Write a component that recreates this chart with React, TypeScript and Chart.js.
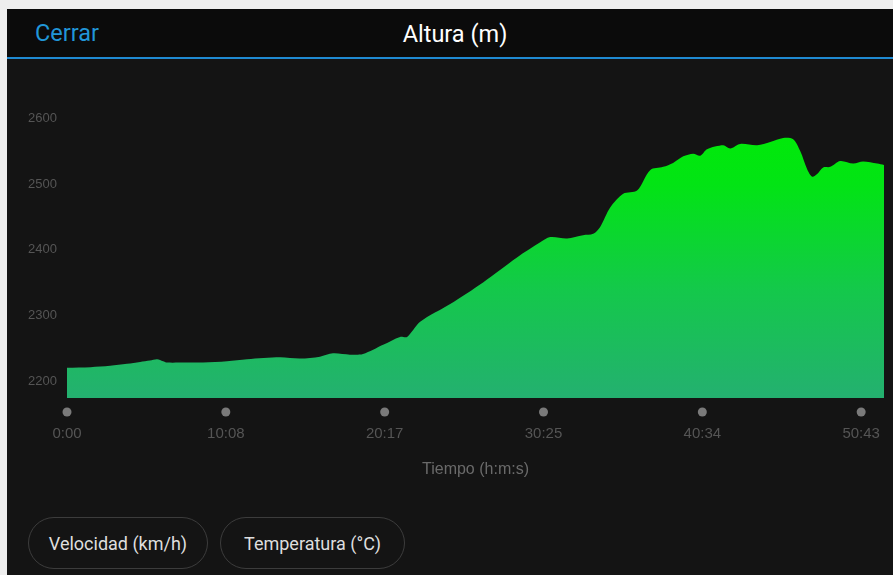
import React, { useEffect, useRef } from "react";
import { Chart, registerables } from "chart.js";

Chart.register(...registerables);

// Elapsed time (seconds) and elevation (m)
const timeSeconds = [
  0, 90, 165, 230, 280, 318, 345, 368, 383, 450, 521, 613, 690, 816, 893, 969,
  1019, 1084, 1134, 1211, 1276, 1303, 1353, 1468, 1594, 1724, 1813, 1851, 1916,
  1977, 2016, 2042, 2081, 2131, 2184, 2234, 2284, 2322, 2361, 2399, 2426, 2452,
  2514, 2541, 2579, 2644, 2694, 2744, 2782, 2809, 2836, 2855, 2874, 2897, 2924,
  2962, 3012, 3050, 3104, 3130,
];
const elevation = [
  2220, 2221, 2223, 2226, 2229, 2231, 2233, 2230, 2228, 2228, 2228, 2230, 2233,
  2236, 2234, 2237, 2242, 2240, 2241, 2255, 2267, 2267, 2290, 2317, 2350, 2388,
  2411, 2419, 2417, 2422, 2424, 2434, 2464, 2485, 2490, 2521, 2526, 2532, 2542,
  2546, 2543, 2553, 2559, 2554, 2561, 2559, 2564, 2570, 2568, 2550, 2522, 2511,
  2515, 2525, 2526, 2535, 2531, 2534, 2531, 2529,
];
const xTickValues = [0, 608.5, 1217, 1825.5, 2434, 3042.5];
const xTickLabels = ["0:00", "10:08", "20:17", "30:25", "40:34", "50:43"];
const yTickValues = [2200, 2300, 2400, 2500, 2600];
const yMin = 2174;
const yMax = 2640;
const xMax = 3130;

const FONT = "'Liberation Sans', Arial, sans-serif";

export default function App() {
  const ref = useRef<HTMLCanvasElement>(null);

  useEffect(() => {
    if (!ref.current) return;
    const dotPlugin = {
      id: "tickDots",
      afterDraw(chart: any) {
        const xs = chart.scales.x;
        const ctx = chart.ctx;
        ctx.save();
        ctx.fillStyle = "#7a7a7a";
        for (const t of xs.ticks) {
          const px = xs.getPixelForValue(t.value);
          ctx.beginPath();
          ctx.arc(px, chart.chartArea.bottom + 14, 4.5, 0, Math.PI * 2);
          ctx.fill();
        }
        ctx.restore();
      },
    };

    const chart = new Chart(ref.current, {
      type: "line",
      data: {
        datasets: [
          {
            data: timeSeconds.map((t, i) => ({ x: t, y: elevation[i] })),
            fill: "start",
            backgroundColor: (c: any) => {
              const { chart } = c;
              const area = chart.chartArea;
              if (!area) return "rgb(20,200,80)";
              const g = chart.ctx.createLinearGradient(0, area.top, 0, area.bottom);
              g.addColorStop(0, "rgb(0,238,0)");
              g.addColorStop(0.3, "rgb(2,228,20)");
              g.addColorStop(0.65, "rgb(20,200,75)");
              g.addColorStop(1, "rgb(36,176,112)");
              return g;
            },
            borderWidth: 0,
            borderColor: "rgba(0,0,0,0)",
            pointRadius: 0,
            tension: 0.3,
          },
        ],
      },
      options: {
        responsive: false,
        maintainAspectRatio: false,
        animation: false,
        layout: { padding: { left: 0, right: 9, top: 33, bottom: 0 } },
        plugins: {
          legend: { display: false },
          tooltip: { enabled: false },
        },
        scales: {
          x: {
            type: "linear",
            min: 0,
            max: xMax,
            grid: { display: false, drawTicks: false },
            border: { display: false },
            afterBuildTicks: (s: any) => {
              s.ticks = xTickValues.map((v) => ({ value: v }));
            },
            ticks: {
              callback: (_v: any, i: number) => xTickLabels[i],
              color: "#555555",
              font: { size: 15, family: FONT },
              padding: 27,
              maxRotation: 0,
              autoSkip: false,
            },
            title: {
              display: true,
              text: "Tiempo (h:m:s)",
              color: "#6a6a6a",
              font: { size: 16, family: FONT },
              padding: { top: 0, bottom: 20.4 },
            },
            afterFit: (s: any) => {
              s.height = 102;
              s.paddingLeft = 0;
              s.paddingRight = 0;
            },
          },
          y: {
            min: yMin,
            max: yMax,
            grid: { display: false, drawTicks: false },
            border: { display: false },
            afterBuildTicks: (s: any) => {
              s.ticks = yTickValues.map((v) => ({ value: v }));
            },
            ticks: {
              callback: (v: any) => String(v),
              color: "#555555",
              font: { size: 13, family: FONT },
              padding: 10,
            },
            afterFit: (s: any) => {
              s.width = 60;
              s.paddingTop = 0;
              s.paddingBottom = 0;
            },
          },
        },
      },
      plugins: [dotPlugin],
    } as any);
    return () => chart.destroy();
  }, []);

  const pill: React.CSSProperties = {
    position: "absolute",
    top: 517,
    height: 52,
    border: "1px solid #3c3c3c",
    borderRadius: 27,
    boxSizing: "border-box",
    color: "#dedede",
    fontFamily: "Roboto, 'Liberation Sans', sans-serif",
    fontSize: 18,
    display: "flex",
    alignItems: "center",
    justifyContent: "center",
  };

  return (
    <div
      style={{
        position: "absolute",
        left: 0,
        top: 0,
        width: 893,
        height: 575,
        background: "#eeeeee",
        overflow: "hidden",
      }}
    >
      <div
        style={{
          position: "absolute",
          left: 7,
          top: 9,
          width: 886,
          height: 566,
          background: "#141414",
        }}
      />
      <div
        style={{
          position: "absolute",
          left: 7,
          top: 9,
          width: 886,
          height: 48,
          background: "#0b0b0b",
        }}
      />
      <div
        style={{
          position: "absolute",
          left: 7,
          top: 57,
          width: 886,
          height: 2,
          background: "#1f8ad2",
        }}
      />
      <div
        style={{
          position: "absolute",
          left: 35,
          top: 33,
          transform: "translateY(-50%)",
          color: "#2196d8",
          fontFamily: "Roboto, sans-serif",
          fontSize: 23.5,
          whiteSpace: "nowrap",
        }}
      >
        Cerrar
      </div>
      <div
        style={{
          position: "absolute",
          left: 455,
          top: 34,
          transform: "translate(-50%, -50%)",
          color: "#ffffff",
          fontFamily: "Roboto, sans-serif",
          fontSize: 23.5,
          whiteSpace: "nowrap",
        }}
      >
        Altura (m)
      </div>
      <canvas
        ref={ref}
        width={886}
        height={441}
        style={{ position: "absolute", left: 7, top: 59, width: 886, height: 441 }}
      />
      <div style={{ ...pill, left: 28, width: 180 }}>Velocidad (km/h)</div>
      <div style={{ ...pill, left: 220, width: 185 }}>Temperatura (°C)</div>
    </div>
  );
}
